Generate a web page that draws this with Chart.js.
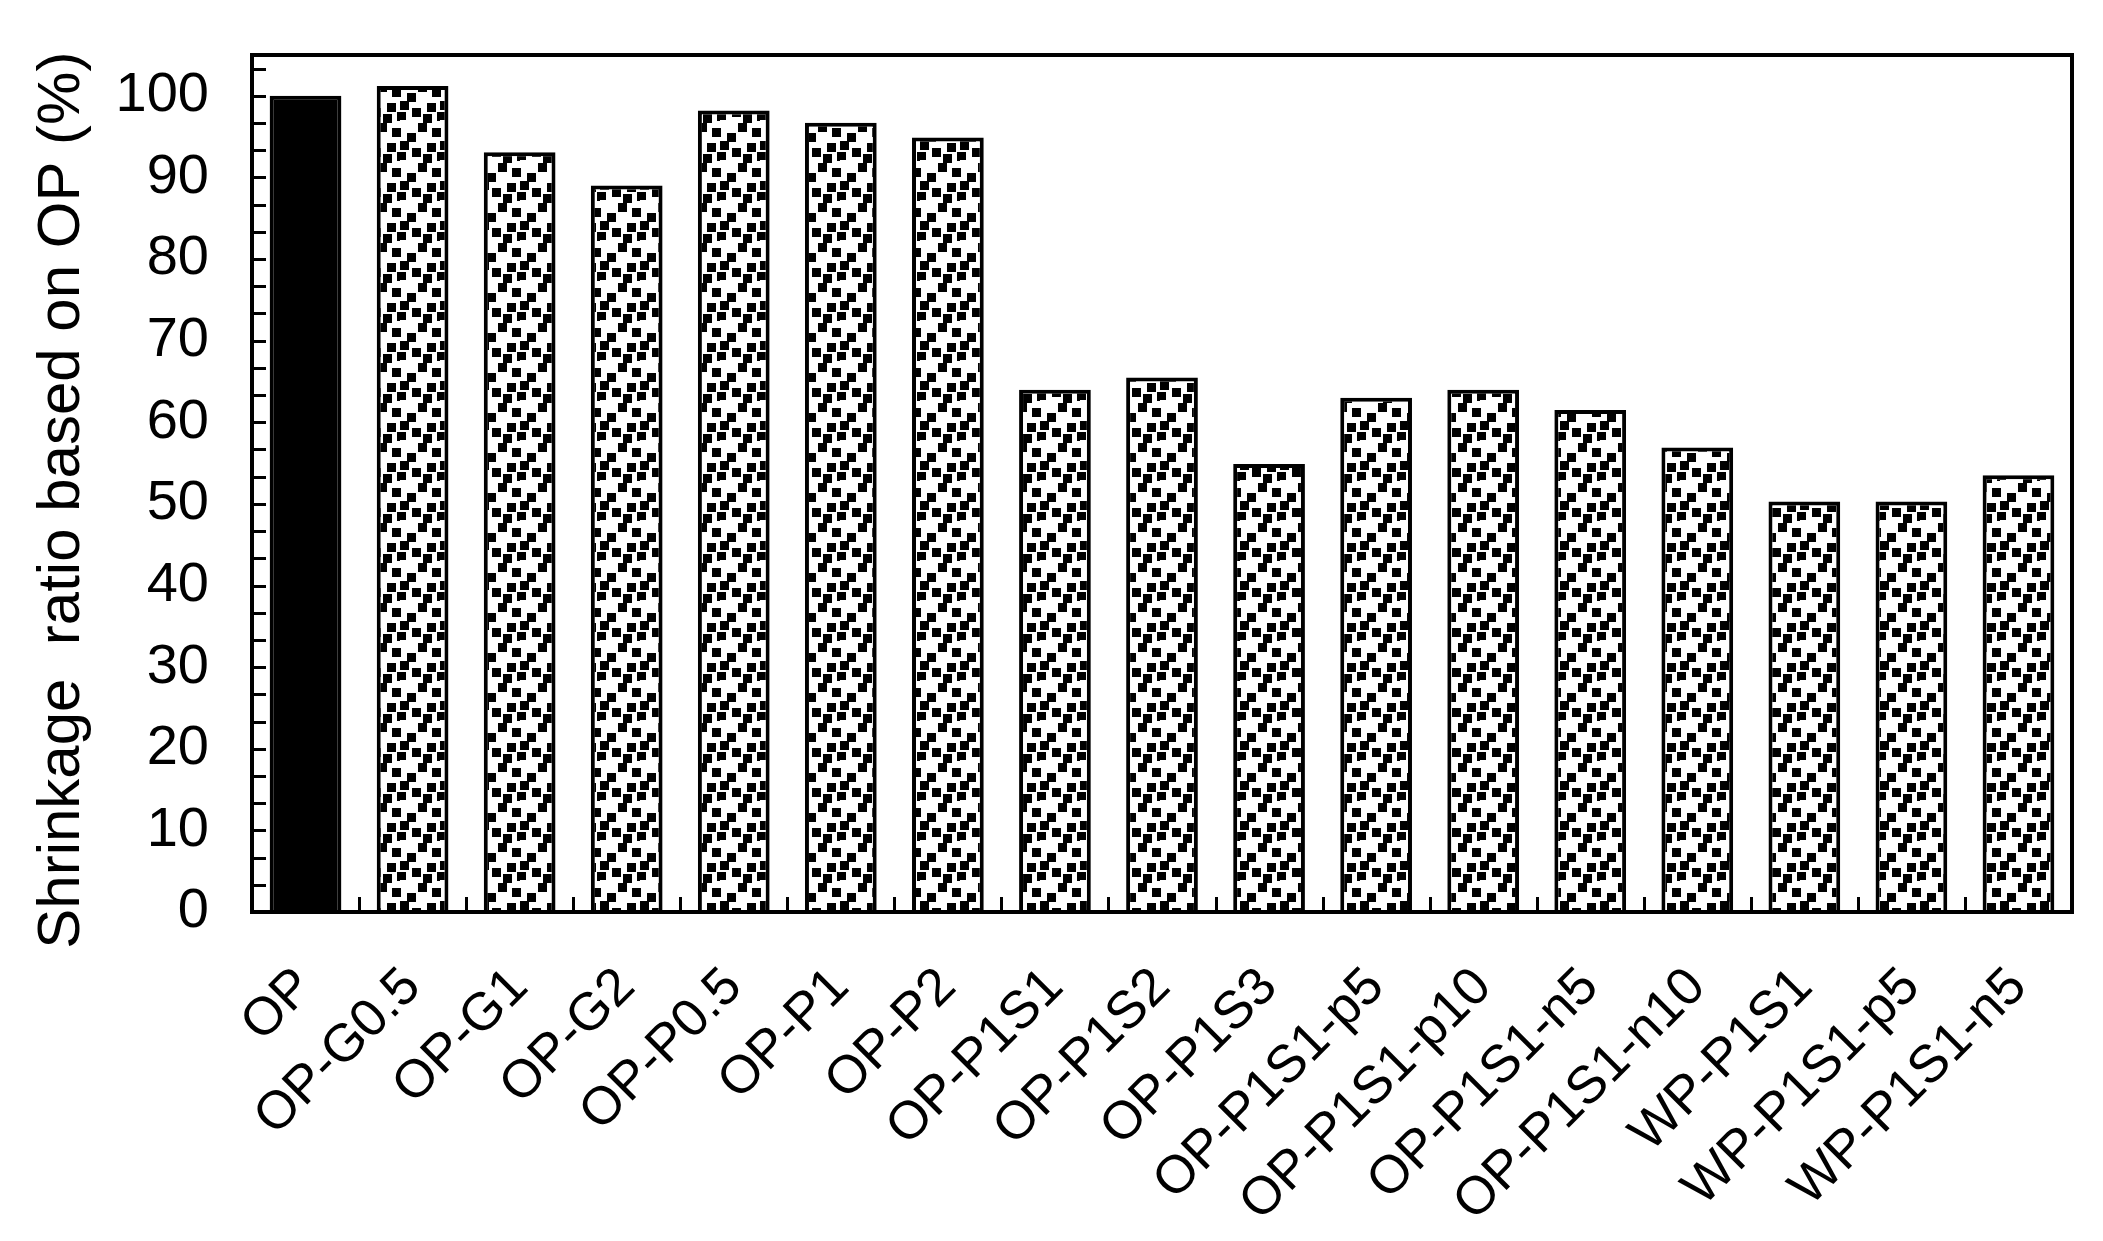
<!DOCTYPE html>
<html>
<head>
<meta charset="utf-8">
<title>Shrinkage ratio</title>
<script src="https://cdn.jsdelivr.net/npm/chart.js@4.4.0/dist/chart.umd.min.js"></script>
<style>
  html, body { margin: 0; padding: 0; background: #fff; }
  #wrap { width: 2103px; height: 1241px; }
</style>
</head>
<body>
<div id="wrap"><canvas id="chart" width="2103" height="1241"></canvas></div>
<script>
// data
const categories = ['OP', 'OP-G0.5', 'OP-G1', 'OP-G2', 'OP-P0.5', 'OP-P1', 'OP-P2',
    'OP-P1S1', 'OP-P1S2', 'OP-P1S3', 'OP-P1S1-p5', 'OP-P1S1-p10', 'OP-P1S1-n5',
    'OP-P1S1-n10', 'WP-P1S1', 'WP-P1S1-p5', 'WP-P1S1-n5'];
const shrinkage = [100, 101.2, 93.1, 89.0, 98.2, 96.7, 94.9,
    64.0, 65.5, 54.9, 63.0, 64.0, 61.5, 56.9, 50.3, 50.3, 53.5];
const yTicks = [0, 10, 20, 30, 40, 50, 60, 70, 80, 90, 100];
const yMax = 105;
const yTitle = 'Shrinkage  ratio based on OP (%)  ';

// dotted fill like the original (black squares on white)
function makePattern() {
    const tile = document.createElement('canvas');
    tile.width = 40;
    tile.height = 40;
    const t = tile.getContext('2d');
    t.fillStyle = '#fff';
    t.fillRect(0, 0, 40, 40);
    t.fillStyle = '#000';
    [[18, 3], [32, 8], [7, 13], [27, 23], [12, 28], [37, 32], [0, 21], [23, 34]].forEach(p => {
        t.fillRect(p[0], p[1], 9, 9);
        if (p[0] + 9 > 40) t.fillRect(p[0] - 40, p[1], 9, 9);
        if (p[1] + 9 > 40) t.fillRect(p[0], p[1] - 40, 9, 9);
    });
    return document.getElementById('chart').getContext('2d').createPattern(tile, 'repeat');
}

const dotted = makePattern();
const fills = shrinkage.map((v, i) => i === 0 ? '#000' : dotted);

// frame + inward ticks
const framePlugin = {
    id: 'frame',
    afterDatasetsDraw(chart) {
        const ctx = chart.ctx;
        const a = chart.chartArea;
        const x = chart.scales.x;
        const y = chart.scales.y;
        ctx.save();
        ctx.strokeStyle = '#000';

        ctx.lineWidth = 3;
        ctx.beginPath();
        for (let v = 0; v <= yMax + 0.01; v += 10 / 3) {
            const py = Math.round(y.getPixelForValue(v)) + 0.5;
            ctx.moveTo(a.left, py);
            ctx.lineTo(a.left + 14, py);
        }
        for (let i = 0; i < categories.length - 1; i++) {
            const px = Math.round((x.getPixelForValue(i) + x.getPixelForValue(i + 1)) / 2) + 0.5;
            ctx.moveTo(px, a.bottom);
            ctx.lineTo(px, a.bottom - 15);
        }
        ctx.stroke();

        ctx.lineWidth = 4;
        ctx.strokeRect(a.left, a.top, a.right - a.left, a.bottom - a.top);
        ctx.restore();
    }
};

new Chart(document.getElementById('chart'), {
    type: 'bar',
    data: {
        labels: categories,
        datasets: [{
            data: shrinkage,
            backgroundColor: fills,
            borderColor: '#000',
            borderWidth: 4,
            borderSkipped: 'bottom',
            categoryPercentage: 1,
            barPercentage: 0.67
        }]
    },
    options: {
        responsive: false,
        animation: false,
        layout: { padding: { top: 55, right: 31, left: 0, bottom: 0 } },
        plugins: {
            legend: { display: false },
            tooltip: { enabled: false }
        },
        scales: {
            x: {
                grid: { display: false, drawTicks: false },
                border: { display: false },
                ticks: {
                    color: '#000',
                    font: { family: 'Liberation Sans, Arial, sans-serif', size: 53 },
                    minRotation: 45,
                    maxRotation: 45,
                    padding: 44,
                    autoSkip: false
                },
                afterFit(scale) {
                    scale.height = 329;
                    scale.paddingLeft = 0;
                    scale.paddingRight = 0;
                }
            },
            y: {
                min: 0,
                max: yMax,
                grid: { display: false, drawTicks: false },
                border: { display: false },
                afterBuildTicks(scale) {
                    scale.ticks = yTicks.map(v => ({ value: v }));
                },
                ticks: {
                    color: '#000',
                    font: { family: 'Liberation Sans, Arial, sans-serif', size: 56 },
                    padding: 43
                },
                title: {
                    display: true,
                    text: yTitle,
                    color: '#000',
                    font: { family: 'Liberation Sans, Arial, sans-serif', size: 60 },
                    padding: { top: 26, bottom: 0 }
                },
                afterFit(scale) {
                    scale.width = 252;
                    scale.paddingTop = 0;
                    scale.paddingBottom = 0;
                }
            }
        }
    },
    plugins: [framePlugin]
});
</script>
</body>
</html>
